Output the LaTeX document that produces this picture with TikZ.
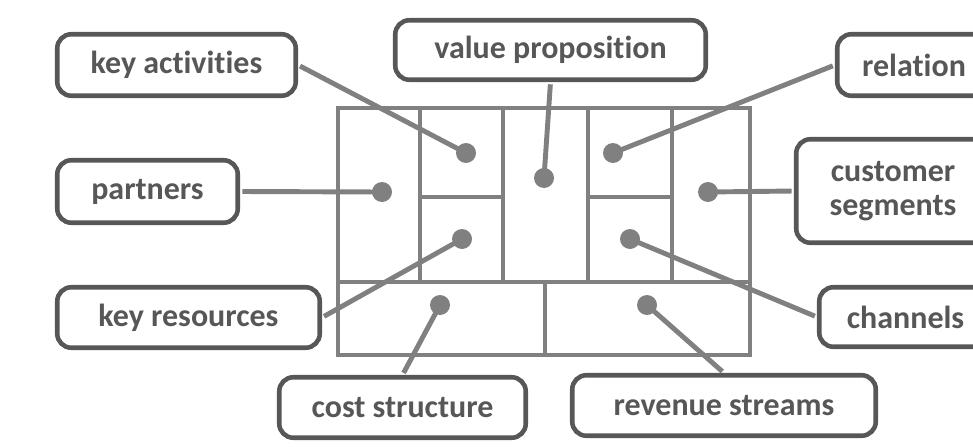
\documentclass[tikz,border=0pt]{standalone}
\usepackage{fontspec}
\setmainfont{Carlito}[Ligatures={NoCommon}]
\definecolor{boxc}{HTML}{575757}
\definecolor{linec}{HTML}{808080}
\tikzset{
  bx/.style 2 args={draw=boxc, line width=2.6pt, rounded corners=8pt, fill=white,
    text=boxc, font=\fontsize{18.2}{19.5}\selectfont\bfseries, align=center,
    inner sep=0pt, minimum width=#1*0.02cm, minimum height=#2*0.02cm},
  cell/.style={draw=linec, line width=2.3pt},
  conn/.style={draw=linec, line width=2.8pt, shorten <=1.3pt},
  dot/.style={circle, fill=linec, inner sep=0pt, minimum size=20*0.02cm},
}

\begin{document}
\begin{tikzpicture}[x=0.02cm,y=-0.02cm]
\useasboundingbox (0,0) rectangle (973,446);
\clip (0,0) rectangle (973,446);
% canvas
\draw[cell] (338,108) rectangle (750,355);
\draw[cell] (338,282) -- (750,282);
\draw[cell] (420,108) -- (420,282);
\draw[cell] (503,108) -- (503,282);
\draw[cell] (588,108) -- (588,282);
\draw[cell] (672,108) -- (672,282);
\draw[cell] (420,197) -- (503,197);
\draw[cell] (588,197) -- (672,197);
\draw[cell] (545,282) -- (545,355);

% labels
\node[bx={238.5}{61.5}] (keyact) at (176.5,65) {key activities};
\node[bx={180.5}{62.5}] (partners) at (147.5,191.5) {partners};
\node[bx={262.5}{60.5}] (keyres) at (188.5,317.5) {key resources};
\node[bx={310.5}{59.5}] (valprop) at (550.5,50) {value proposition};
\node[bx={153.5}{61.5}] (relation) at (914,65) {relation};
\node[bx={193.5}{103.5}] (custseg) at (893,191) {customer\\segments};
\node[bx={172.5}{59.5}] (channels) at (905.5,317) {channels};
\node[bx={246.5}{60.5}] (cost) at (402.5,407.5) {cost structure};
\node[bx={303.5}{60.5}] (revenue) at (724,405.5) {revenue streams};

% dots
\node[dot] (dkeyact) at (466,153) {};
\node[dot] (dpartners) at (382,192) {};
\node[dot] (dkeyres) at (462,239) {};
\node[dot] (dvalprop) at (544,178) {};
\node[dot] (drelation) at (613,153) {};
\node[dot] (dcustseg) at (708,192) {};
\node[dot] (dchannels) at (630,239) {};
\node[dot] (dcost) at (440,305) {};
\node[dot] (drevenue) at (647,305) {};

% connectors
\draw[conn] (keyact.east) -- (dkeyact.center);
\draw[conn] (partners.east) -- (dpartners.center);
\draw[conn] (keyres.east) -- (dkeyres.center);
\draw[conn] (valprop.south) -- (dvalprop.center);
\draw[conn] (relation.west) -- (drelation.center);
\draw[conn] (custseg.west) -- (dcustseg.center);
\draw[conn] (channels.west) -- (dchannels.center);
\draw[conn] (cost.north) -- (dcost.center);
\draw[conn] (revenue.north) -- (drevenue.center);
\end{tikzpicture}
\end{document}
